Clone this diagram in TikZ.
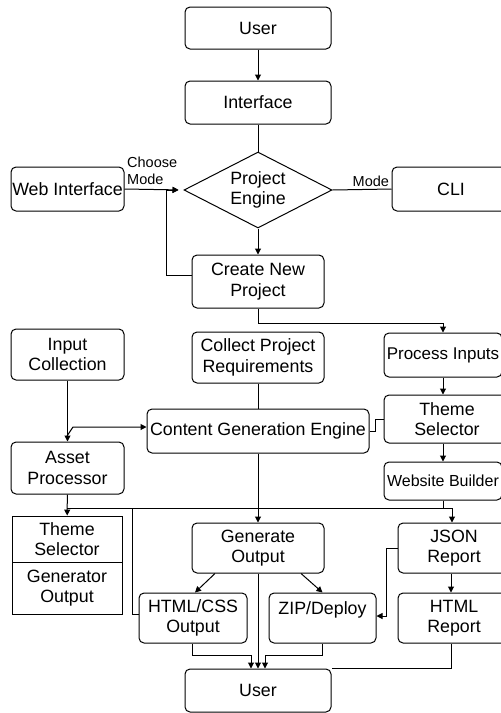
\documentclass[tikz,border=0pt]{standalone}
\usepackage{fontspec}
\setmainfont{Liberation Sans}
\usetikzlibrary{shapes.geometric,arrows.meta,calc}
\begin{document}
\begin{tikzpicture}[x=1pt,y=-1pt,
  box/.style={draw,rounded corners=5pt,line width=1pt,align=center,font=\fontsize{17.8}{20.5}\selectfont,inner sep=0pt},
  sq/.style={draw,line width=0.9pt,align=center,font=\fontsize{17.8}{20.5}\selectfont,inner sep=0pt},
  conn/.style={line width=1pt},
  arr/.style={conn,-{Triangle[length=6pt,width=6pt]}},
  lbl/.style={font=\fontsize{14.5}{17}\selectfont,inner sep=0pt}]
\useasboundingbox (0,0) rectangle (501,713);
\clip (0,0) rectangle (501,713);
\fill[white] (0,0) rectangle (501,713);
% nodes
\node[box,minimum width=146pt,minimum height=42pt] (user1) at (258,28) {User};
\node[box,minimum width=146pt,minimum height=43pt] (iface) at (258,102.5) {Interface};
\node[draw,diamond,line width=1pt,minimum width=148pt,minimum height=76pt,inner sep=0pt,aspect=1.95,align=center,font=\fontsize{17.8}{20.5}\selectfont] (engine) at (258,190) {Project\\Engine};
\node[box,minimum width=113pt,minimum height=44pt] (web) at (67.5,189) {Web Interface};
\node[box,minimum width=118pt,minimum height=44pt] (cli) at (451,189) {CLI};
\node[box,minimum width=132pt,minimum height=53pt] (create) at (258,281.5) {Create New\\Project};
\node[box,minimum width=132pt,minimum height=51pt] (collect) at (258,357.5) {Collect Project\\Requirements};
\node[box,minimum width=113pt,minimum height=51pt] (input) at (67.5,354.5) {Input\\Collection};
\node[box,minimum width=222pt,minimum height=44pt] (cge) at (258,431) {Content Generation Engine};
\node[box,minimum width=113pt,minimum height=52pt] (asset) at (67.5,468) {Asset\\Processor};
\node[box,minimum width=118pt,minimum height=44pt,font=\fontsize{17}{20.5}\selectfont] (proc) at (443,355) {Process Inputs};
\node[box,minimum width=126pt,minimum height=48pt] (themeR) at (447,419) {Theme\\Selector};
\node[box,minimum width=118pt,minimum height=38pt,font=\fontsize{16}{20}\selectfont] (webb) at (443,481) {Website Builder};
\node[sq,minimum width=110pt,minimum height=46pt] (tsL) at (67,539) {Theme\\Selector};
\node[sq,minimum width=110pt,minimum height=52pt] (goL) at (67,588) {Generator\\Output};
\node[box,minimum width=132pt,minimum height=50pt] (gen) at (258,548) {Generate\\Output};
\node[box,minimum width=108pt,minimum height=50pt] (html) at (193,618) {HTML/CSS\\Output};
\node[box,minimum width=107pt,minimum height=50pt] (zip) at (322.5,618) {ZIP/Deploy\\\mbox{}};
\node[box,minimum width=112pt,minimum height=50pt] (json) at (454,548) {JSON\\Report};
\node[box,minimum width=112pt,minimum height=50pt] (htmlR) at (454,618) {HTML\\Report};
\node[box,minimum width=146pt,minimum height=43pt] (user2) at (258,690.5) {User};
% labels
\node[lbl,align=left,anchor=south west] (choose) at (127,185) {Choose\\Mode};
% connectors
\draw[arr] (user1) -- (iface);
\draw[conn] (iface) -- (engine);
\draw[arr] (engine) -- (create);
\draw[arr,shorten >=5pt] (web.east) -- (engine.west);
\draw[arr,shorten >=5pt] ([yshift=6pt]create.west) -- ++(-25,0) |- (engine.west);
\draw[conn] (engine.east) -- (cli.west) node[lbl,pos=1,anchor=south east,xshift=-2pt,yshift=2pt] (modelbl) {Mode};
\coordinate (j1) at (258,323);
\draw[conn] (create.south) -- (j1);
\draw[arr] (j1) -| (proc.north);
\draw[conn] (collect) -- (cge);
\draw[arr] (input) -- (asset);
\coordinate (ac) at (73,427);
\coordinate (ac0) at (67,436);
\draw[arr] (ac0) -- (ac) -- (ac -| cge.west);
\draw[conn] (cge.east) -- ++(6,0) |- (themeR.west);
\draw[arr] (proc.south) -- (proc.south |- themeR.north);
\draw[arr] (webb.north |- themeR.south) -- (webb.north);
\coordinate (bL) at (67,508);
\coordinate (bR) at (452,508);
\coordinate (bH) at (132,508);
\draw[conn] (webb.south) -- ++(0,8);
\draw[conn] (bL) -- (bR);
\draw[arr] (asset) -- (tsL);
\draw[arr] (bR) -- (bR |- json.north);
\draw[arr] (cge) -- (gen);
\draw[conn] (bH) |- ([yshift=4pt]html.west);
\draw[arr] ($(gen.south)+(-43,0)$) -- ($(html.north)+(2,0)$);
\draw[arr] ($(gen.south)+(43,0)$) -- (zip.north);
\draw[arr] (json.west) -- ++(-11,0) |- ([yshift=2pt]zip.east);
\draw[arr] ([xshift=-3pt]json.south) -- ([xshift=-3pt]htmlR.north);
\draw[arr] ([xshift=-1pt]html.south) -- ++(0,12) -| ([xshift=-7pt]user2.north);
\draw[arr] (gen) -- (user2);
\draw[arr] (zip.south) -- ++(0,12) -| ([xshift=7pt]user2.north);
\draw[conn] ([xshift=-3pt]htmlR.south) |- (user2.north east);
\end{tikzpicture}
\end{document}
